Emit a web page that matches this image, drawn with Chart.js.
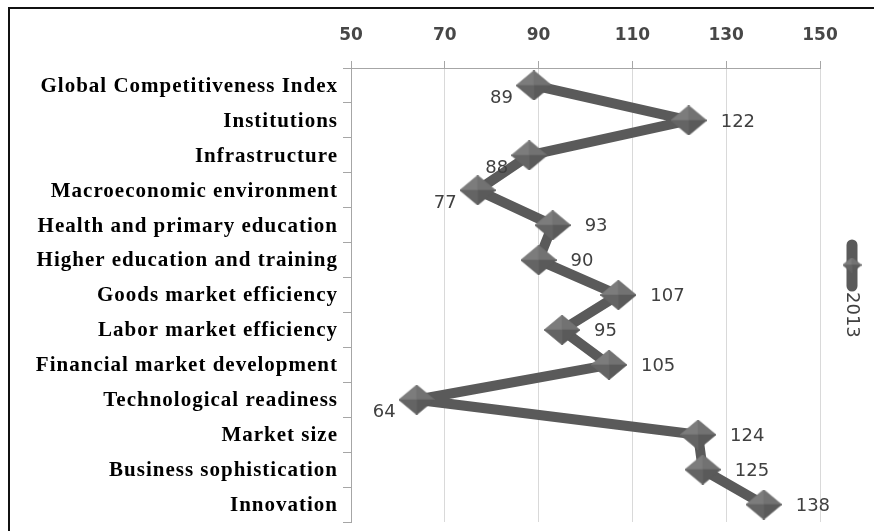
<!DOCTYPE html>
<html>
<head>
<meta charset="utf-8">
<script src="https://cdn.jsdelivr.net/npm/chart.js@4"></script>
<style>
  body { margin: 0; background: #fff; }
  #frame { position: absolute; left: 8px; top: 7px; width: 900px; height: 600px; border-left: 2px solid #111; border-top: 2px solid #111; }
  #chart { position: absolute; left: 0; top: 0; }
</style>
</head>
<body>
<div id="frame"></div>
<canvas id="chart" width="874" height="531"></canvas>
<script>
// DATOS
const categories = [
  "Global Competitiveness Index",
  "Institutions",
  "Infrastructure",
  "Macroeconomic environment",
  "Health and primary education",
  "Higher education and training",
  "Goods market efficiency",
  "Labor market efficiency",
  "Financial market development",
  "Technological readiness",
  "Market size",
  "Business sophistication",
  "Innovation"
];
const values2013 = [89, 122, 88, 77, 93, 90, 107, 95, 105, 64, 124, 125, 138];
const seriesName = "2013";
const xTicks = [50, 70, 90, 110, 130, 150];

const LINE_COLOR = "#5a5a5a";

// MARCADOR EN FORMA DE PIRAMIDE
function makeDiamond(w, h) {
  const c = document.createElement("canvas");
  c.width = w;
  c.height = h;
  const g = c.getContext("2d");
  const cx = w / 2, cy = h / 2;
  const faces = [
    [[0, cy], [cx, 0], "#7c7c7c"],
    [[cx, 0], [w, cy], "#727272"],
    [[w, cy], [cx, h], "#5a5a5a"],
    [[cx, h], [0, cy], "#646464"]
  ];
  faces.forEach(([a, b, col]) => {
    g.beginPath();
    g.moveTo(cx, cy);
    g.lineTo(a[0], a[1]);
    g.lineTo(b[0], b[1]);
    g.closePath();
    g.fillStyle = col;
    g.strokeStyle = col;
    g.lineWidth = 0.6;
    g.fill();
    g.stroke();
  });
  return c;
}
const diamond = makeDiamond(36, 30);
const smallDiamond = makeDiamond(19, 15);

// ETIQUETAS DE VALOR
const valueLabels = {
  id: "valueLabels",
  afterDatasetsDraw(chart, args, opts) {
    const ctx = chart.ctx;
    const meta = chart.getDatasetMeta(0);
    ctx.save();
    ctx.font = "18px 'DejaVu Sans'";
    ctx.fillStyle = "#404040";
    ctx.textBaseline = "middle";
    meta.data.forEach((pt, i) => {
      const left = opts.leftSide.includes(i);
      ctx.textAlign = left ? "right" : "left";
      ctx.fillText(String(values2013[i]), left ? pt.x - 21 : pt.x + 32, left ? pt.y + 13 : pt.y + 1.5);
    });
    ctx.restore();
  }
};

// ETIQUETAS DE CATEGORIA (CON ESPACIADO)
const categoryLabels = {
  id: "categoryLabels",
  afterDraw(chart) {
    const ctx = chart.ctx;
    const yScale = chart.scales.y;
    ctx.save();
    ctx.font = "bold 21px 'Liberation Serif'";
    ctx.letterSpacing = "1px";
    ctx.fillStyle = "#000";
    ctx.textAlign = "right";
    ctx.textBaseline = "middle";
    categories.forEach((label, i) => {
      ctx.fillText(label, chart.chartArea.left - 13, yScale.getPixelForValue(i) + 1);
    });
    ctx.restore();
  }
};

// LEYENDA VERTICAL
const sideLegend = {
  id: "sideLegend",
  afterDraw(chart) {
    const ctx = chart.ctx;
    const x = 852;
    ctx.save();
    ctx.strokeStyle = LINE_COLOR;
    ctx.lineWidth = 11;
    ctx.lineCap = "round";
    ctx.beginPath();
    ctx.moveTo(x, 245);
    ctx.lineTo(x, 286);
    ctx.stroke();
    ctx.drawImage(smallDiamond, x - smallDiamond.width / 2, 265 - smallDiamond.height / 2);
    ctx.translate(x, 292);
    ctx.rotate(Math.PI / 2);
    ctx.font = "18px 'DejaVu Sans'";
    ctx.fillStyle = "#404040";
    ctx.textAlign = "left";
    ctx.textBaseline = "middle";
    ctx.fillText(chart.data.datasets[0].label, 0, 0);
    ctx.restore();
  }
};

const config = {
  type: "line",
  data: {
    labels: categories,
    datasets: [
      {
        label: seriesName,
        data: values2013,
        borderColor: LINE_COLOR,
        borderWidth: 10,
        borderJoinStyle: "round",
        tension: 0,
        clip: false,
        pointStyle: diamond,
        pointRadius: 16,
        pointHoverRadius: 16
      }
    ]
  },
  options: {
    indexAxis: "y",
    responsive: false,
    animation: false,
    events: [],
    layout: { autoPadding: false, padding: { left: 0, right: 54, top: 0, bottom: 9 } },
    plugins: {
      legend: { display: false },
      tooltip: { enabled: false },
      valueLabels: { leftSide: [0, 2, 3, 9] }
    },
    scales: {
      x: {
        type: "linear",
        position: "top",
        min: xTicks[0],
        max: xTicks[xTicks.length - 1],
        afterBuildTicks: (s) => { s.ticks = xTicks.map((v) => ({ value: v })); },
        afterFit: (s) => { s.height = 68; },
        ticks: {
          padding: 15,
          color: "#474747",
          font: { family: "DejaVu Sans", weight: "bold", size: 17 }
        },
        grid: { color: "#d9d9d9", tickColor: "#a6a6a6", tickLength: 7 },
        border: { color: "#a6a6a6" }
      },
      y: {
        type: "category",
        offset: true,
        afterFit: (s) => { s.width = 351; },
        ticks: { display: false },
        grid: { offset: true, drawOnChartArea: false, tickLength: 8, tickColor: "#a6a6a6" },
        border: { color: "#a6a6a6" }
      }
    }
  },
  plugins: [valueLabels, categoryLabels, sideLegend]
};

new Chart(document.getElementById("chart"), config);
</script>
</body>
</html>
